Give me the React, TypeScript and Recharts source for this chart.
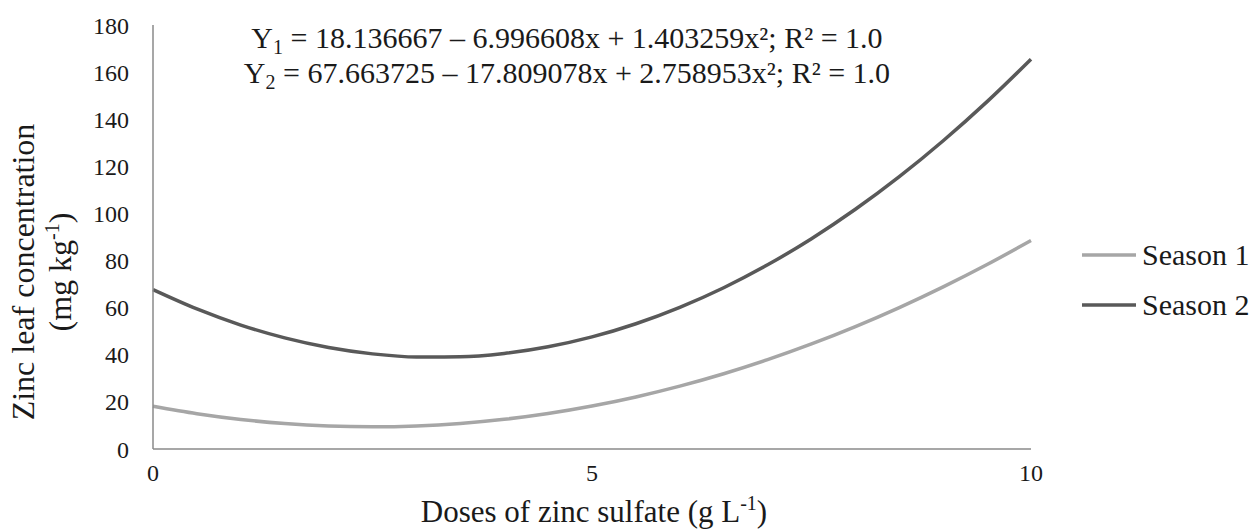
import React from "react";
import { LineChart, Line, XAxis, YAxis, Legend, Customized } from "recharts";

const doses = [0, 0.5, 1, 1.5, 2, 2.5, 3, 3.5, 4, 4.5, 5, 5.5, 6, 6.5, 7, 7.5, 8, 8.5, 9, 9.5, 10];
const season1 = [18.14, 14.99, 12.54, 10.8, 9.76, 9.42, 9.78, 10.84, 12.6, 15.07, 18.24, 22.1, 26.68, 31.95, 37.92, 44.59, 51.97, 60.05, 68.83, 78.31, 88.5];
const season2 = [67.66, 59.45, 52.61, 47.16, 43.08, 40.38, 39.06, 39.13, 40.56, 43.39, 47.58, 53.17, 60.13, 68.46, 78.19, 89.28, 101.76, 115.61, 130.86, 147.47, 165.47];
const xTicks = [0, 5, 10];
const yTicks = [0, 20, 40, 60, 80, 100, 120, 140, 160, 180];
const seriesNames = ["Season 1", "Season 2"];
const seriesColors = ["#a6a6a6", "#595959"];

const data = doses.map((d, i) => ({ dose: d, s1: season1[i], s2: season2[i] }));

const FONT = "Liberation Serif, Tinos, Times New Roman, serif";
const TXT = "#1a1a1a";

const Texts = () => (
  <g style={{ fontFamily: FONT }} fill={TXT}>
    <text x={567} y={48} fontSize={30} textAnchor="middle" style={{ fontFamily: FONT }}>
      Y<tspan fontSize={20} dy={6}>1</tspan>
      <tspan dy={-6}> = 18.136667 – 6.996608x + 1.403259x²; R² = 1.0</tspan>
    </text>
    <text x={567} y={83} fontSize={30} textAnchor="middle" style={{ fontFamily: FONT }}>
      Y<tspan fontSize={20} dy={6}>2</tspan>
      <tspan dy={-6}> = 67.663725 – 17.809078x + 2.758953x²; R² = 1.0</tspan>
    </text>
    <text x={0} y={0} fontSize={32} textAnchor="middle" transform="translate(34,272) rotate(-90)" style={{ fontFamily: FONT }}>
      Zinc leaf concentration
    </text>
    <text x={0} y={0} fontSize={32} textAnchor="middle" transform="translate(71,272) rotate(-90)" style={{ fontFamily: FONT }}>
      (mg kg<tspan fontSize={20} dy={-12}>-1</tspan><tspan dy={12}>)</tspan>
    </text>
    <text x={594} y={522} fontSize={31} textAnchor="middle" style={{ fontFamily: FONT }}>
      Doses of zinc sulfate (g L<tspan fontSize={20} dy={-12}>-1</tspan><tspan dy={12}>)</tspan>
    </text>
  </g>
);

const LegendContent = () => (
  <div style={{ fontFamily: FONT, fontSize: 30, color: TXT }}>
    {seriesNames.map((n, i) => (
      <div key={n} style={{ display: "flex", alignItems: "center", height: 50 }}>
        <svg width={58} height={10} style={{ marginRight: 2 }}>
          <line x1={0} y1={5} x2={54} y2={5} stroke={seriesColors[i]} strokeWidth={3.5} />
        </svg>
        <span>{n}</span>
      </div>
    ))}
  </div>
);

const tickStyle = { fontFamily: FONT, fontSize: 24, fill: TXT, style: { fontFamily: FONT } };

export default function App() {
  return (
    <div style={{ position: "absolute", left: 0, top: 0, width: 1254, height: 530, background: "#fff", fontFamily: FONT }}>
      <LineChart width={1254} height={530} data={data} margin={{ top: 25, right: 223, bottom: 0, left: 0 }} style={{ fontFamily: FONT }}>
        <XAxis
          dataKey="dose"
          type="number"
          domain={[0, 10]}
          ticks={xTicks}
          height={81}
          tickLine={false}
          tickMargin={9}
          axisLine={{ stroke: "#8a8a8a", strokeWidth: 1.5 }}
          tick={tickStyle}
        />
        <YAxis
          type="number"
          domain={[0, 180]}
          ticks={yTicks}
          width={153}
          tickLine={false}
          tickMargin={18}
          axisLine={{ stroke: "#8a8a8a", strokeWidth: 1.5 }}
          tick={tickStyle}
        />
        <Line dataKey="s1" name={seriesNames[0]} type="monotone" stroke={seriesColors[0]} strokeWidth={3.5} dot={false} isAnimationActive={false} />
        <Line dataKey="s2" name={seriesNames[1]} type="monotone" stroke={seriesColors[1]} strokeWidth={3.5} dot={false} isAnimationActive={false} />
        <Legend
          layout="vertical"
          align="center"
          verticalAlign="middle"
          content={<LegendContent />}
          wrapperStyle={{ left: 1082, top: 230, width: 172 }}
        />
        <Customized component={Texts} />
      </LineChart>
    </div>
  );
}
